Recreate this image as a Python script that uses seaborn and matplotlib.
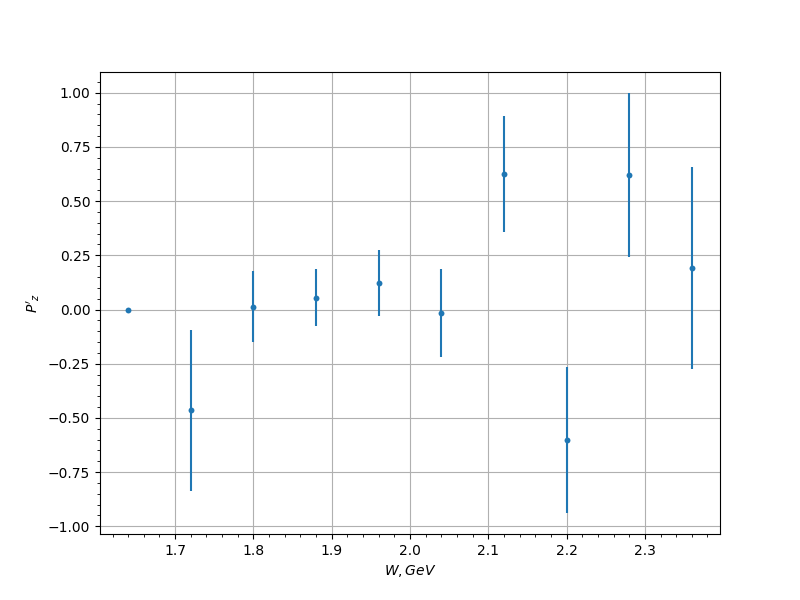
import matplotlib
matplotlib.use('Agg')
import matplotlib.pyplot as plt
import numpy as np
import seaborn as sns

# polarization vs. energy
w_gev = [1.64, 1.72, 1.80, 1.88, 1.96, 2.04, 2.12, 2.20, 2.28, 2.36]
p_z = [0.0, -0.465, 0.013, 0.054, 0.121, -0.017, 0.626, -0.602, 0.621, 0.19]
p_z_err = [0.0, 0.372, 0.163, 0.131, 0.152, 0.202, 0.268, 0.337, 0.378, 0.466]

fig, ax = plt.subplots(figsize=(8, 6), dpi=100)

ax.errorbar(w_gev, p_z, yerr=p_z_err, fmt='none', ecolor='C0', lw=1.5)
sns.scatterplot(x=w_gev, y=p_z, ax=ax, color='C0', s=18, linewidth=0, zorder=3)

ax.minorticks_on()
ax.grid(True)
ax.set_xlabel('$W, GeV$')
ax.set_ylabel("$P'_z$")

fig.savefig('out.png', dpi=100)
